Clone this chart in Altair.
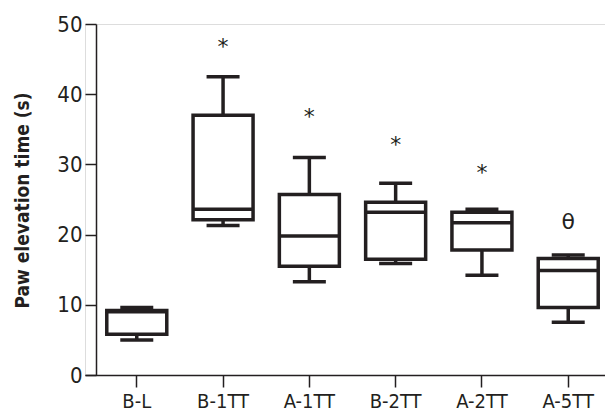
import altair as alt
import pandas as pd

groups = ["B-L", "B-1TT", "A-1TT", "B-2TT", "A-2TT", "A-5TT"]
mins = [5.0, 21.3, 13.3, 15.9, 14.2, 7.5]
q1s = [5.8, 22.1, 15.5, 16.5, 17.8, 9.6]
medians = [9.0, 23.6, 19.8, 23.2, 21.7, 14.9]
q3s = [9.2, 37.0, 25.7, 24.6, 23.2, 16.6]
maxs = [9.6, 42.5, 31.0, 27.3, 23.6, 17.1]
marks = ["", "*", "*", "*", "*", "θ"]
mark_y = [None, 47.3, 37.3, 33.4, 29.3, 22.3]

df = pd.DataFrame({"group": groups, "min": mins, "q1": q1s, "median": medians,
                   "q3": q3s, "max": maxs})
ann = pd.DataFrame({"group": groups, "label": marks, "y": mark_y}).dropna()

FONT = "'DejaVu Sans Condensed', 'Roboto Condensed', 'Liberation Sans Narrow', 'Open Sans Condensed', sans-serif"
INK = "#231f20"

x = alt.X("group:N", sort=groups, title=None,
          scale=alt.Scale(paddingInner=0, paddingOuter=0.1, range=[0, 535]),
          axis=alt.Axis(labelAngle=0, labelFont=FONT, labelFontSize=20,
                        labelColor=INK, domainColor=INK, tickColor=INK,
                        domainWidth=1.5, tickWidth=1.5, tickSize=12,
                        labelPadding=4))
yscale = alt.Scale(domain=[0, 50], nice=False)
yaxis = alt.Axis(values=[0, 10, 20, 30, 40, 50], labelFont=FONT, labelFontSize=22,
                 labelColor=INK, domainColor=INK, tickColor=INK, domainWidth=1.5,
                 tickWidth=1.5, tickSize=11, labelPadding=3, grid=False, offset=-11,
                 title="Paw elevation time (s)", titleFont=FONT, titleFontSize=19,
                 titleFontWeight="bold", titleColor=INK, titleX=-74, titleY=176,
                 titleBaseline="middle", titleAlign="center", titleAngle=-90)

base = alt.Chart(df)
lw = 3.5
upper = base.mark_rule(color=INK, strokeWidth=lw, opacity=1).encode(
    x=x, y=alt.Y("q3:Q", scale=yscale, axis=yaxis), y2="max:Q")
lower = base.mark_rule(color=INK, strokeWidth=lw, opacity=1).encode(
    x=x, y=alt.Y("min:Q", scale=yscale), y2="q1:Q")
box = base.mark_bar(fill="white", stroke=INK, strokeWidth=lw, size=60,
                    opacity=1).encode(
    x=x, y=alt.Y("q1:Q", scale=yscale), y2="q3:Q")
med = base.mark_tick(color=INK, thickness=lw, size=60, opacity=1).encode(
    x=x, y=alt.Y("median:Q", scale=yscale))
capt = base.mark_tick(color=INK, thickness=lw, size=33, opacity=1).encode(
    x=x, y=alt.Y("max:Q", scale=yscale))
capb = base.mark_tick(color=INK, thickness=lw, size=33, opacity=1).encode(
    x=x, y=alt.Y("min:Q", scale=yscale))
text = alt.Chart(ann).mark_text(font="DejaVu Sans", fontSize=22, fill=INK,
                                opacity=1, baseline="middle", dy=4).encode(
    x=x, y=alt.Y("y:Q", scale=yscale), text="label:N")

chart = alt.layer(upper, lower, box, med, capt, capb, text).properties(
    width=520, height=351,
    autosize=alt.AutoSizeParams(type="none"),
    padding={"left": 77, "top": 16, "right": 0, "bottom": 36},
).configure_view(stroke=None).configure(background="white")

chart.save("out.html", embed_options={"renderer": "svg", "actions": False})
